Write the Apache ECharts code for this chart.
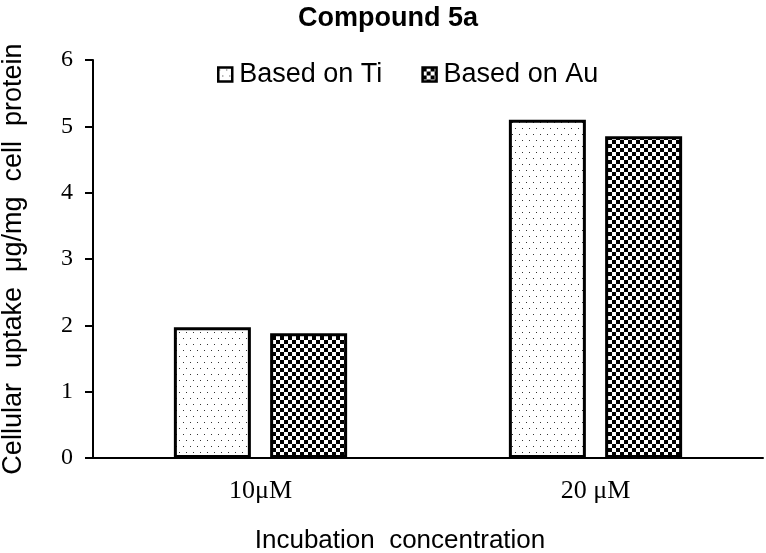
<!DOCTYPE html>
<html>
<head>
<meta charset="utf-8">
<script src="https://cdn.jsdelivr.net/npm/echarts@6/dist/echarts.min.js"></script>
<style>html,body{margin:0;padding:0;background:#fff;}#c{width:766px;height:553px;}</style>
</head>
<body>
<div id="c"></div>
<script>
const categories = ['10μM', '20 μM'];
const seriesNames = ['Based on Ti', 'Based on Au'];
const tiValues = [1.97, 5.10];
const auValues = [1.88, 4.85];
const yTicks = [0, 1, 2, 3, 4, 5, 6];

function dotPattern() {
  const c = document.createElement('canvas');
  c.width = 7; c.height = 12;
  const g = c.getContext('2d');
  g.fillStyle = '#fff'; g.fillRect(0, 0, 7, 12);
  g.fillStyle = '#333';
  g.fillRect(1, 2, 1, 1);
  g.fillRect(4, 8, 1, 1);
  return c;
}
function checkerPattern() {
  const c = document.createElement('canvas');
  c.width = 8; c.height = 8;
  const g = c.getContext('2d');
  g.fillStyle = '#fff'; g.fillRect(0, 0, 8, 8);
  g.fillStyle = '#000';
  g.fillRect(0, 0, 4, 4);
  g.fillRect(4, 4, 4, 4);
  return c;
}
const dotFill = { image: dotPattern(), repeat: 'repeat' };
const checkFill = { image: checkerPattern(), repeat: 'repeat' };

const chart = echarts.init(document.getElementById('c'), null, { renderer: 'canvas' });
chart.setOption({
  backgroundColor: '#fff',
  animation: false,
  title: {
    text: 'Compound 5a', left: 298, top: 5, padding: 0,
    textStyle: { fontFamily: 'Liberation Sans', fontWeight: 'bold', fontSize: 27, color: '#000' }
  },
  legend: {
    data: seriesNames, left: 217, top: 61, padding: 0,
    itemWidth: 14, itemHeight: 14, itemGap: 39,
    icon: 'rect',
    itemStyle: { borderColor: '#000', borderWidth: 2.5 },
    textStyle: { fontFamily: 'Liberation Sans', fontSize: 27, color: '#000', padding: [0, 0, 0, 2] }
  },
  grid: { left: 93, right: 3, top: 60, bottom: 95, containLabel: false, outerBoundsMode: 'none' },
  xAxis: {
    type: 'category', data: categories,
    axisLine: { lineStyle: { color: '#000', width: 2 } },
    axisTick: { show: false },
    axisLabel: { fontFamily: 'Liberation Serif', fontSize: 26, color: '#000', margin: 20 },
    name: 'Incubation  concentration', nameLocation: 'middle', nameGap: 70,
    nameTextStyle: { fontFamily: 'Liberation Sans', fontSize: 26, color: '#000', padding: [0, 56, 0, 0] }
  },
  yAxis: {
    type: 'value', min: yTicks[0], max: yTicks[yTicks.length - 1], interval: 1,
    axisLine: { show: true, lineStyle: { color: '#000', width: 2 } },
    axisTick: { show: true, length: 8, lineStyle: { color: '#000', width: 2 } },
    splitLine: { show: false },
    axisLabel: { fontFamily: 'Liberation Serif', fontSize: 24, color: '#000', margin: 20 },
    name: 'Cellular  uptake  μg/mg  cell  protein', nameLocation: 'middle', nameGap: 66, nameRotate: 90,
    nameTextStyle: { fontFamily: 'Liberation Sans', fontSize: 27, color: '#000' }
  },
  series: [
    {
      name: seriesNames[0], type: 'bar', data: tiValues,
      barWidth: 77, barGap: '25%',
      itemStyle: { color: dotFill, borderColor: '#000', borderWidth: 3 }
    },
    {
      name: seriesNames[1], type: 'bar', data: auValues,
      barWidth: 77, barGap: '25%',
      itemStyle: { color: checkFill, borderColor: '#000', borderWidth: 3 }
    }
  ]
});
</script>
</body>
</html>
